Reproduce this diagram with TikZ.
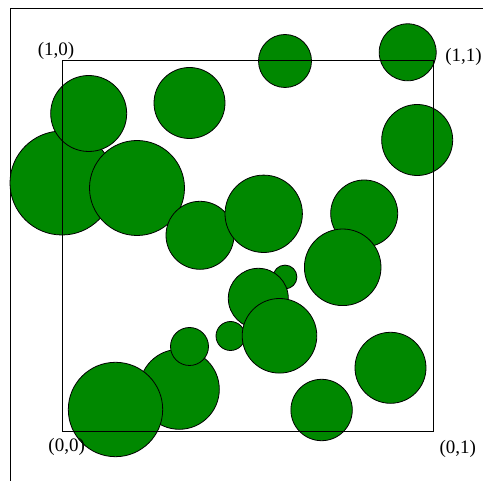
\documentclass[tikz,border=0pt]{standalone}
\usepackage{fontspec}
\setmainfont{Liberation Serif}
\definecolor{disc}{RGB}{0,136,0}
\begin{document}
\begin{tikzpicture}[x=1pt,y=-1pt,
  disk/.style={fill=disc,draw=black,line width=0.8pt},
  frame/.style={draw=black,line width=0.8pt},
  lab/.style={font=\fontsize{19}{21}\selectfont,inner sep=0pt,anchor=center}]
\useasboundingbox (0,0) rectangle (483,481);
% outer frame (top and left edges)
\draw[frame] (483,8) -- (10,8) -- (10,481);
% discs
\filldraw[disk] (62,183) circle (52);
\filldraw[disk] (137,188) circle (47.5);
\filldraw[disk] (88.7,113.5) circle (38);
\filldraw[disk] (189.5,103) circle (35.5);
\filldraw[disk] (285,61) circle (26.5);
\filldraw[disk] (407.7,52.3) circle (28.5);
\filldraw[disk] (417.2,140) circle (35.5);
\filldraw[disk] (200,235.3) circle (34);
\filldraw[disk] (263.7,213.8) circle (38.7);
\filldraw[disk] (364.2,213.5) circle (33.5);
\filldraw[disk] (342.7,267.3) circle (38.3);
\filldraw[disk] (285,277) circle (11.9);
\filldraw[disk] (258.3,298.3) circle (30);
\filldraw[disk] (230.5,336) circle (14.5);
\filldraw[disk] (279.5,335.8) circle (37.3);
\filldraw[disk] (179.3,389.3) circle (40);
\filldraw[disk] (115.5,409.5) circle (47.2);
\filldraw[disk] (189.5,346.5) circle (19);
\filldraw[disk] (390.5,367.8) circle (35.5);
\filldraw[disk] (321.6,410) circle (30.7);
% unit square on top
\draw[frame] (62.5,60.7) rectangle (433.3,431);
% corner labels
\node[lab] (l10) at (56,51) {(1,0)};
\node[lab] (l11) at (463.5,57) {(1,1)};
\node[lab] (l00) at (66.7,446.5) {(0,0)};
\node[lab] (l01) at (457.8,449) {(0,1)};
\end{tikzpicture}
\end{document}
